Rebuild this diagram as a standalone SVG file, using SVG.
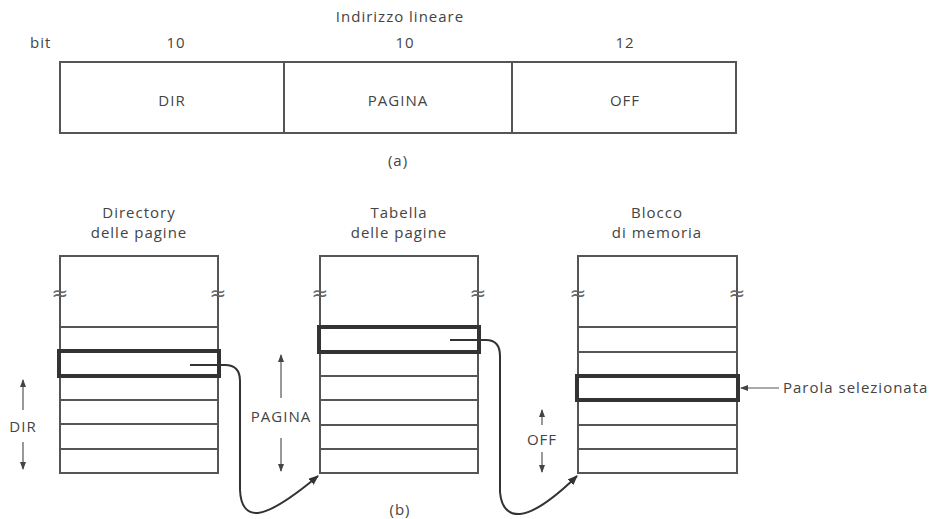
<svg xmlns="http://www.w3.org/2000/svg" width="937" height="519" viewBox="0 0 937 519">
<style>
text{font-family:"Open Sans","Liberation Sans",sans-serif;font-size:15px;fill:#444;letter-spacing:1px}
.c{text-anchor:middle}
.box{fill:none;stroke:#555;stroke-width:2}
.row{stroke:#555;stroke-width:2}
.hl{fill:none;stroke:#333;stroke-width:4}
.thin{stroke:#555;stroke-width:1.2;fill:none}
.conn{stroke:#333;stroke-width:2;fill:none}
.sq{font-family:"DejaVu Sans",sans-serif;font-size:20px;fill:#666;letter-spacing:0}
</style>
<defs>
<marker id="ah" markerWidth="10" markerHeight="8" refX="9" refY="4" orient="auto" markerUnits="userSpaceOnUse">
<path d="M0,0 L10,4 L0,8 Z" fill="#333"/>
</marker>
<marker id="sa" markerWidth="8" markerHeight="10" refX="7" refY="5" orient="auto" markerUnits="userSpaceOnUse">
<path d="M0,2 L8,5 L0,8 Z" fill="#444"/>
</marker>
</defs>

<g id="linear-address">
<text class="c" x="400" y="22">Indirizzo lineare</text>
<text x="30" y="48">bit</text>
<text class="c" x="176" y="48">10</text>
<text class="c" x="405" y="48">10</text>
<text class="c" x="625" y="48">12</text>
<rect class="box" x="60" y="62" width="676" height="71"/>
<line class="row" x1="284" y1="62" x2="284" y2="133"/>
<line class="row" x1="512" y1="62" x2="512" y2="133"/>
<text class="c" x="172" y="106">DIR</text>
<text class="c" x="398" y="106">PAGINA</text>
<text class="c" x="625" y="106">OFF</text>
<text class="c" x="398" y="166">(a)</text>
</g>

<g id="page-directory">
<text class="c" x="139" y="218">Directory</text>
<text class="c" x="139" y="238">delle pagine</text>
<rect class="box" x="60" y="256" width="158" height="217"/>
<text class="c sq" x="60" y="300">≈</text>
<text class="c sq" x="218" y="300">≈</text>
<line class="row" x1="60" y1="327" x2="218" y2="327"/>
<line class="row" x1="60" y1="400" x2="218" y2="400"/>
<line class="row" x1="60" y1="424" x2="218" y2="424"/>
<line class="row" x1="60" y1="449" x2="218" y2="449"/>
<rect class="hl" x="59" y="351" width="160" height="25"/>
</g>

<g id="page-table">
<text class="c" x="399" y="218">Tabella</text>
<text class="c" x="399" y="238">delle pagine</text>
<rect class="box" x="320" y="256" width="158" height="217"/>
<text class="c sq" x="320" y="300">≈</text>
<text class="c sq" x="478" y="300">≈</text>
<line class="row" x1="320" y1="376" x2="478" y2="376"/>
<line class="row" x1="320" y1="400" x2="478" y2="400"/>
<line class="row" x1="320" y1="425" x2="478" y2="425"/>
<line class="row" x1="320" y1="449" x2="478" y2="449"/>
<rect class="hl" x="319" y="327" width="160" height="25"/>
</g>

<g id="memory-block">
<text class="c" x="657" y="218">Blocco</text>
<text class="c" x="657" y="238">di memoria</text>
<rect class="box" x="578" y="256" width="159" height="217"/>
<text class="c sq" x="578" y="300">≈</text>
<text class="c sq" x="737" y="300">≈</text>
<line class="row" x1="578" y1="327" x2="737" y2="327"/>
<line class="row" x1="578" y1="352" x2="737" y2="352"/>
<line class="row" x1="578" y1="425" x2="737" y2="425"/>
<line class="row" x1="578" y1="449" x2="737" y2="449"/>
<rect class="hl" x="577" y="376" width="161" height="24"/>
</g>

<g id="labels">
<text class="c" x="23" y="432">DIR</text>
<text class="c" x="281" y="422">PAGINA</text>
<text class="c" x="542" y="445">OFF</text>
<text x="783" y="393">Parola selezionata</text>
<text class="c" x="400" y="515">(b)</text>
</g>

<g id="connectors">
<line class="thin" x1="23" y1="410" x2="23" y2="380" marker-end="url(#sa)"/>
<line class="thin" x1="23" y1="442" x2="23" y2="469" marker-end="url(#sa)"/>
<line class="thin" x1="281" y1="398" x2="281" y2="355" marker-end="url(#sa)"/>
<line class="thin" x1="281" y1="438" x2="281" y2="471" marker-end="url(#sa)"/>
<line class="thin" x1="542" y1="425" x2="542" y2="410" marker-end="url(#sa)"/>
<line class="thin" x1="542" y1="452" x2="542" y2="472" marker-end="url(#sa)"/>
<line class="thin" x1="779" y1="388" x2="741" y2="388" marker-end="url(#sa)"/>
<path class="conn" d="M190,365 H225 Q240,365 240,381 V490 Q241,514 258,513 Q276,511 318,476" marker-end="url(#ah)"/>
<path class="conn" d="M450,340 H486 Q500,340 500,356 V492 Q502,515 520,514 Q540,512 577,476" marker-end="url(#ah)"/>
</g>
</svg>
